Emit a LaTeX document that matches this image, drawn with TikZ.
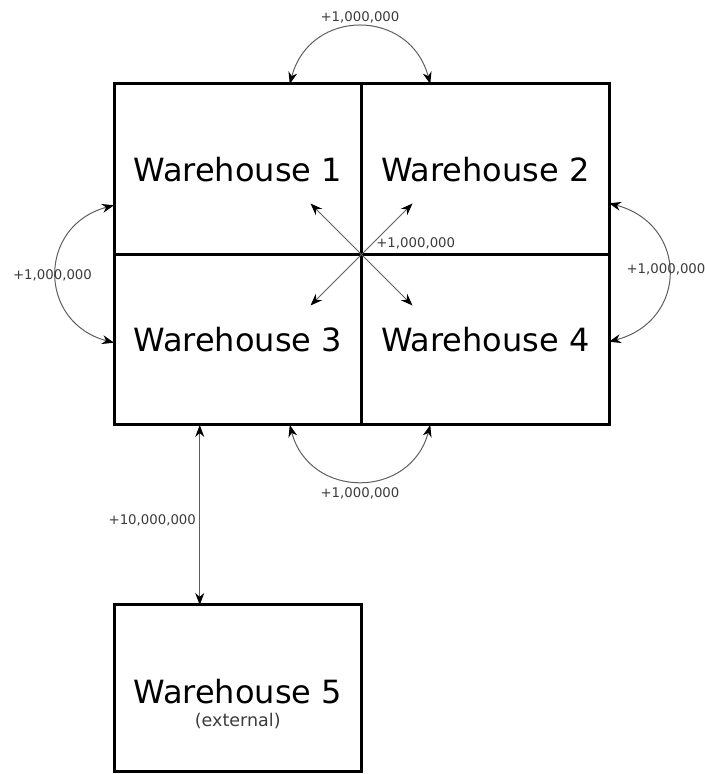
\documentclass[tikz,border=0pt]{standalone}
\usepackage{fontspec}
\setmainfont{DejaVu Sans}
\usetikzlibrary{arrows.meta}
\definecolor{linkgray}{HTML}{5E5E5E}
\definecolor{costgray}{HTML}{3C3C3C}

\begin{document}
\begin{tikzpicture}[x=1pt, y=1pt,
	house/.style={shape=rectangle, draw=black, line width=3pt, inner sep=0pt, outer sep=0pt,
		minimum width=247.5pt, minimum height=170.5pt, font=\fontsize{32}{23}\selectfont},
	link/.style={draw=linkgray, line width=1pt,
		{Stealth[length=12pt,width=9pt,color=black]}-{Stealth[length=12pt,width=9pt,color=black]}},
	cost/.style={text=costgray, font=\fontsize{13.3}{16}\selectfont}]
	
	\useasboundingbox (0,0) rectangle (706,774);
	
	\node[house] (w1) at (237.75,604.75) {Warehouse 1};
	\node[house] (w2) at (485.25,604.75) {Warehouse 2};
	\node[house] (w3) at (237.75,434.25) {Warehouse 3};
	\node[house] (w4) at (485.25,434.25) {Warehouse 4};
	\node[house, minimum height=167pt, align=center, text height=78pt] (w5) at (237.75,85.5)
		{Warehouse 5\\{\fontsize{17.5}{23}\selectfont\color{costgray}(external)}};
	
	\coordinate (ul) at ([shift={(-51pt,51pt)}]w1.south east);
	\coordinate (ur) at ([shift={(51pt,51pt)}]w1.south east);
	\coordinate (ll) at ([shift={(-51pt,-51pt)}]w1.south east);
	\coordinate (lr) at ([shift={(51pt,-51pt)}]w1.south east);
	
	\path[link] ([xshift=52pt]w1.north) to[out=75, in=105, looseness=1.44]
		node[cost, midway, above]{+1,000,000} ([xshift=-55pt]w2.north);
	\path[link] ([xshift=52pt]w3.south) to[out=-75, in=-105, looseness=1.41]
		node[cost, midway, below=2.5pt]{+1,000,000} ([xshift=-55pt]w4.south);
	\path[link] ([yshift=-36pt]w1.west) to[out=195, in=165, looseness=1.48]
		node[cost, midway, xshift=-4pt, yshift=-1pt]{+1,000,000} ([yshift=-3pt]w3.west);
	\path[link] ([yshift=-34pt]w2.east) to[out=-15, in=15, looseness=1.52]
		node[cost, midway, xshift=-2.5pt, yshift=3pt]{+1,000,000} ([yshift=-2pt]w4.east);
	
	\path[link] (ul) -- (lr);
	\path[link] (ur) -- (ll)
		node[cost, midway, anchor=south west, xshift=11pt, yshift=1.5pt]{+1,000,000};
	
	\path[link] ([xshift=-38pt]w3.south) -- node[cost, midway, left, yshift=-5pt]{+10,000,000}
		([xshift=-38pt]w5.north);
	
\end{tikzpicture}
\end{document}
